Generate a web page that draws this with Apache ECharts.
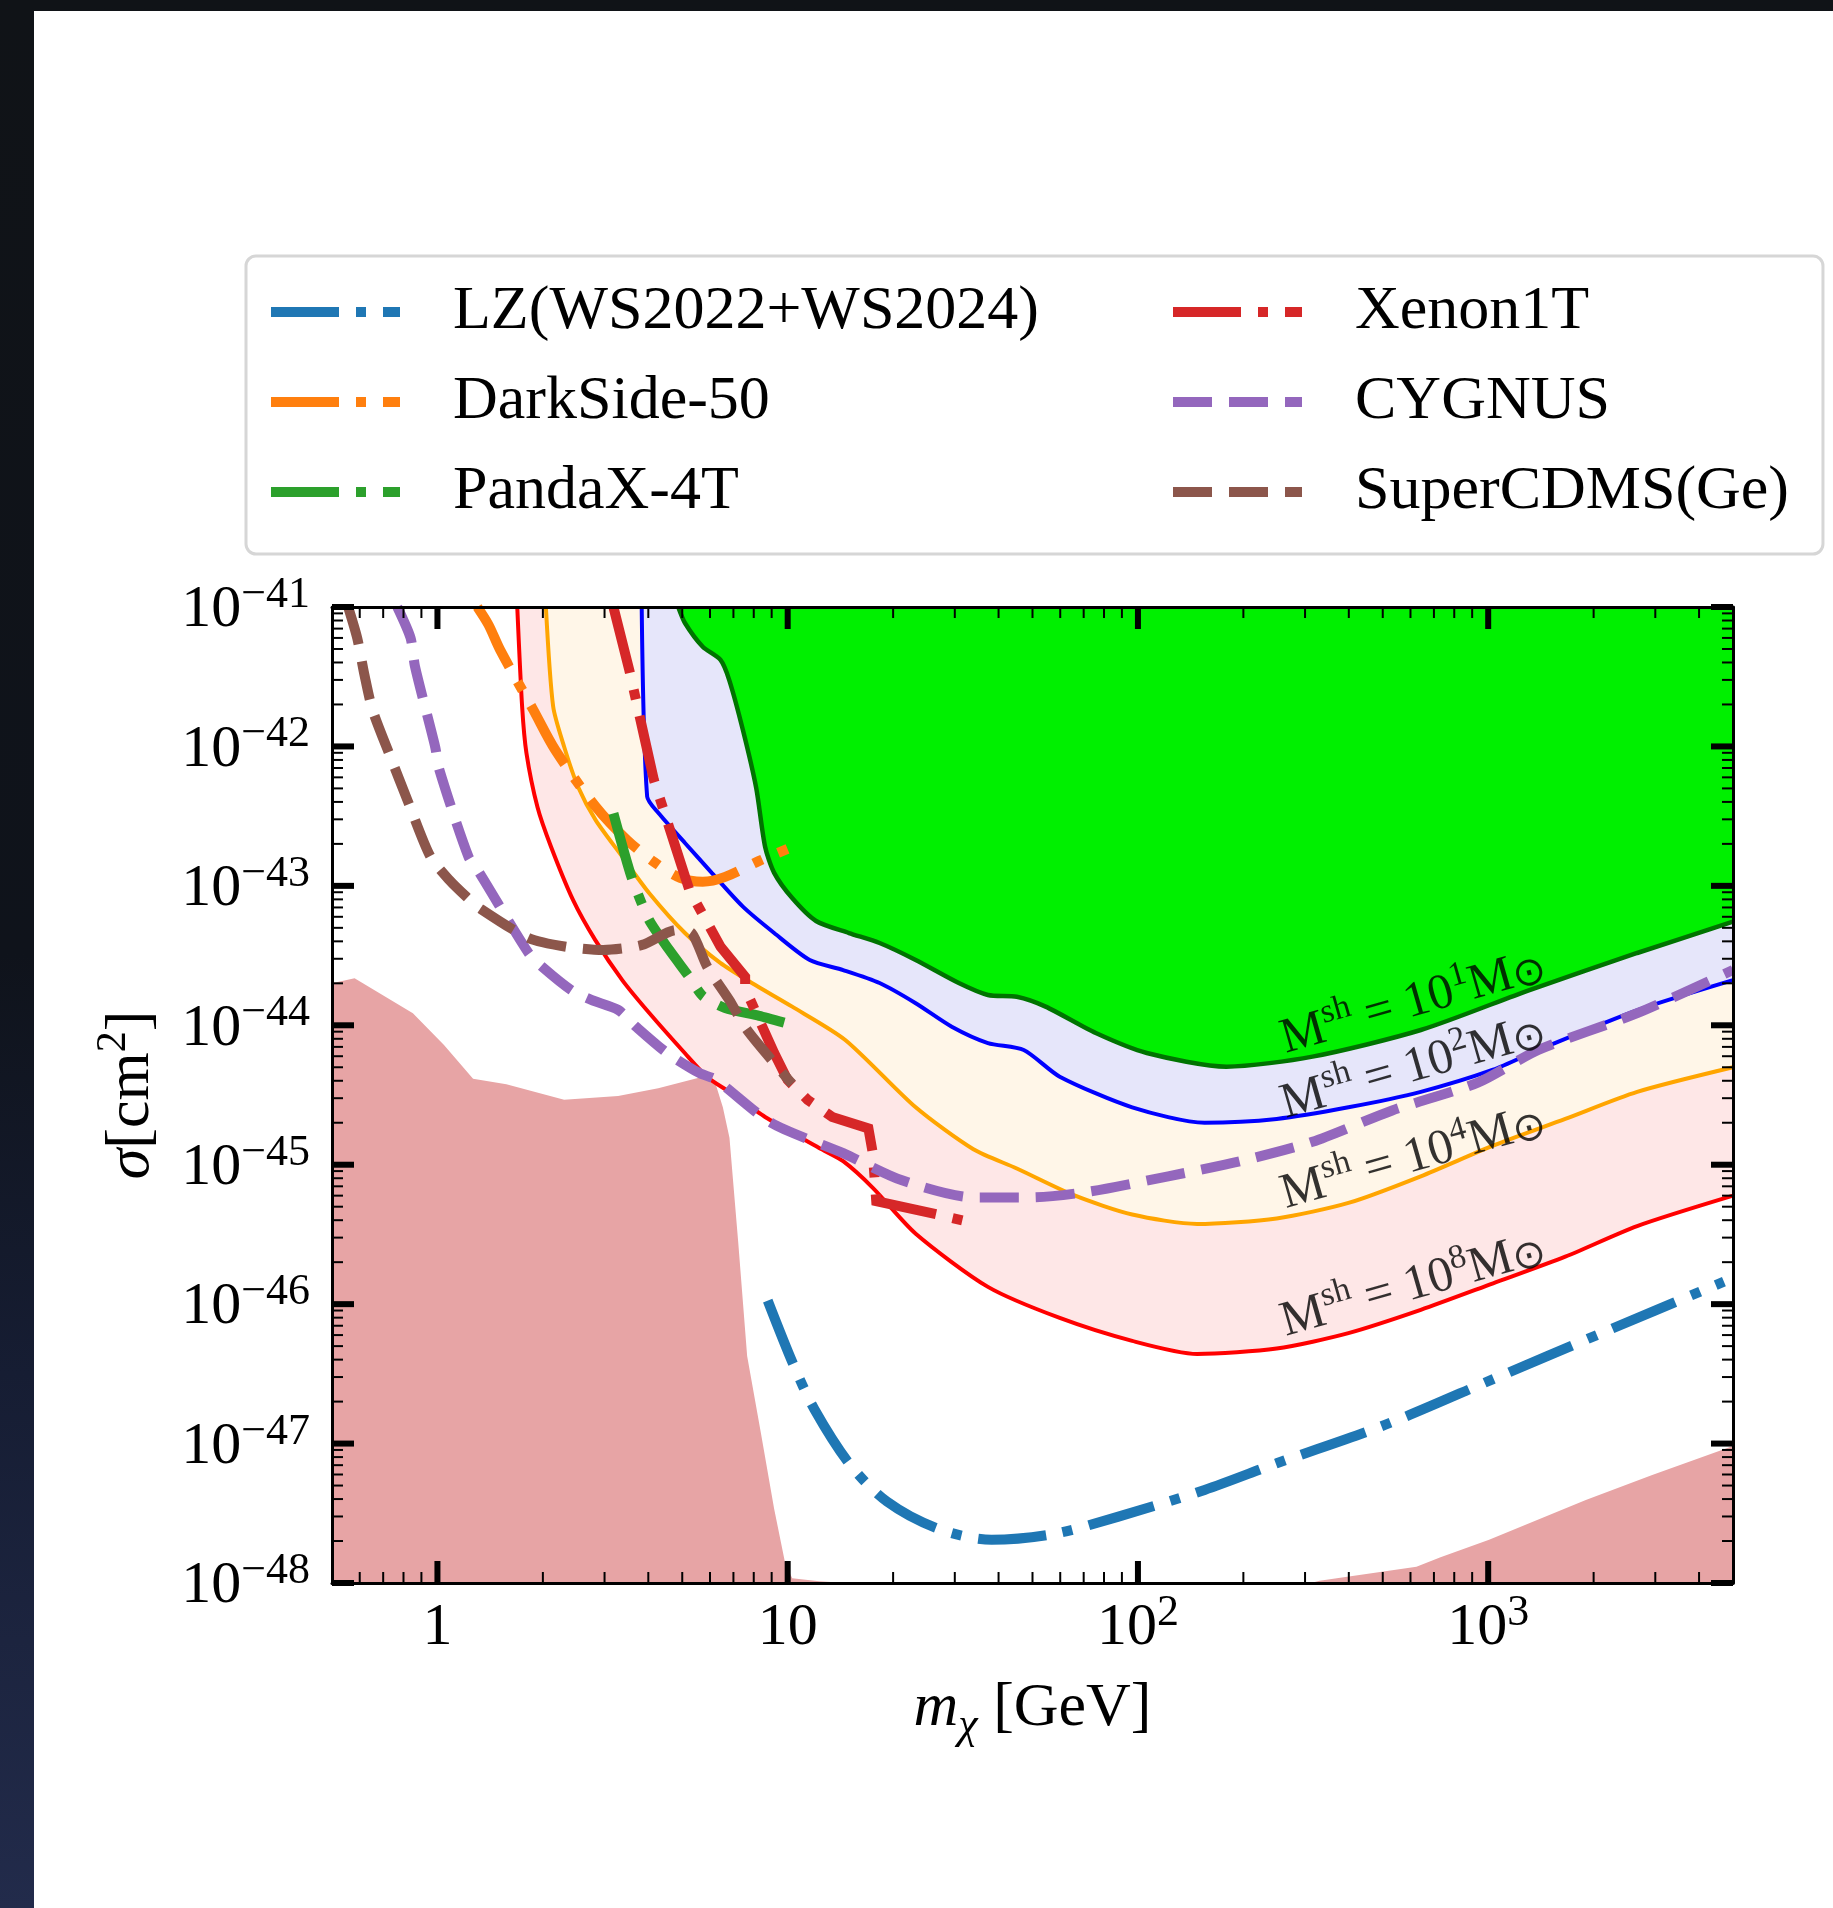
<!DOCTYPE html>
<html>
<head>
<meta charset="utf-8">
<script src="https://cdn.jsdelivr.net/npm/echarts@6/dist/echarts.min.js"></script>
<style>
html,body{margin:0;padding:0;width:1833px;height:1908px;overflow:hidden;}
body{background:linear-gradient(180deg,#101317 0%,#0f131b 50%,#161d33 72%,#222b4b 100%);}
#paper{position:absolute;left:34px;top:11px;right:0;bottom:0;background:#ffffff;}
#chart{position:absolute;left:0;top:0;width:1833px;height:1908px;}
</style>
</head>
<body>
<div id="paper"></div>
<div id="chart"></div>
<script>
// ---------------- data ----------------
const xMajorTicks = [1, 10, 100, 1000];
const yMajorTicks = [1e-48, 1e-47, 1e-46, 1e-45, 1e-44, 1e-43, 1e-42, 1e-41];
const minorMultipliers = [2, 3, 4, 5, 6, 7, 8, 9];
const xDecades = [0.1, 1, 10, 100, 1000];
const yDecades = [1e-48, 1e-47, 1e-46, 1e-45, 1e-44, 1e-43, 1e-42];

// M^sh = 10^8 Msun (red)
const msh8X = [1.69, 1.745, 1.795, 1.93, 2.11, 2.44, 2.82, 3.37, 4.02, 5.09, 5.89, 6.81, 8.62, 12.5, 14.4, 17.5, 23.2, 37.3, 59.8, 96.3, 147.6, 249, 399, 642, 1033, 1660, 2663, 5000];
const msh8Y = [1e-41, 1.93e-42, 8.98e-43, 3.68e-43, 1.91e-43, 7.9e-44, 4.1e-44, 2.11e-44, 1.23e-44, 6.3e-45, 4.26e-45, 3.33e-45, 2.2e-45, 1.29e-45, 1.06e-45, 6.83e-46, 3.2e-46, 1.33e-46, 7.96e-47, 5.45e-47, 4.39e-47, 4.8e-47, 6.2e-47, 9.1e-47, 1.41e-46, 2.19e-46, 3.63e-46, 6.0e-46];
// M^sh = 10^4 Msun (orange)
const msh4X = [2.04, 2.14, 2.30, 2.52, 2.83, 3.37, 4.02, 5.09, 6.42, 7.90, 10.3, 14.6, 23.2, 33.9, 45.1, 65.9, 96.3, 147.6, 249, 399, 642, 1033, 1660, 2663, 5000];
const msh4Y = [1e-41, 1.93e-42, 9.95e-43, 5.14e-43, 2.96e-43, 1.62e-43, 8.89e-44, 4.59e-44, 2.8e-44, 2.01e-44, 1.36e-44, 7.85e-45, 2.58e-45, 1.29e-45, 9.4e-46, 6.02e-46, 4.39e-46, 3.76e-46, 4.12e-46, 5.32e-46, 8.26e-46, 1.37e-45, 2.13e-45, 3.33e-45, 5.0e-45];
// M^sh = 10^2 Msun (blue)
const msh2X = [3.83, 3.97, 4.27, 5.09, 6.07, 7.45, 9.15, 11.56, 14.4, 18.3, 23.2, 29.4, 37.3, 47.2, 59.8, 96.3, 155, 249, 399, 642, 1033, 1390, 2682, 5000];
const msh2Y = [1e-41, 4.37e-43, 3.34e-43, 2.03e-43, 1.24e-43, 7.09e-44, 4.59e-44, 2.94e-44, 2.49e-44, 2.01e-44, 1.44e-44, 9.77e-45, 7.46e-45, 6.65e-45, 4.28e-45, 2.58e-45, 2.0e-45, 2.13e-45, 2.58e-45, 3.33e-45, 4.8e-45, 6.65e-45, 1.29e-44, 2.11e-44];
// M^sh = 10^1 Msun (green)
const msh1X = [4.87, 5.09, 5.72, 6.43, 6.81, 7.45, 8.13, 8.62, 9.15, 10.3, 12.05, 14.96, 18.3, 23.2, 30.8, 37.3, 45.1, 54.5, 75.8, 106, 179, 315, 642, 1312, 2663, 5000];
const msh1Y = [1e-41, 7.68e-42, 5.19e-42, 4.17e-42, 2.99e-42, 1.31e-42, 5.04e-43, 1.91e-43, 1.24e-43, 8.18e-44, 5.6e-44, 4.59e-44, 3.89e-44, 2.94e-44, 2.01e-44, 1.65e-44, 1.6e-44, 1.36e-44, 8.8e-45, 6.33e-45, 5.05e-45, 5.96e-45, 9.25e-45, 1.79e-44, 3.3e-44, 5.53e-44];
// shaded floor region (pink)
const floorX = [0.5, 0.58, 0.851, 1.044, 1.264, 1.573, 2.30, 3.28, 4.27, 5.72, 6.16, 6.53, 6.82, 7.22, 7.66, 8.38, 9.15, 9.83, 10.3, 12.3, 14, 17, 250, 290, 330, 624, 731, 1006, 1900, 2940, 5000];
const floorY = [2.0e-44, 2.17e-44, 1.22e-44, 7.22e-45, 4.14e-45, 3.77e-45, 2.92e-45, 3.11e-45, 3.53e-45, 4.28e-45, 4.14e-45, 2.58e-45, 1.56e-45, 2.83e-46, 4.25e-47, 1.2e-47, 3.4e-48, 1.4e-48, 1.08e-48, 1.03e-48, 1.01e-48, 9e-49, 5e-49, 9.5e-49, 1.04e-48, 1.31e-48, 1.53e-48, 2.04e-48, 3.94e-48, 5.96e-48, 9.6e-48];

// experiments
const lzX = [8.77, 10.36, 11.94, 15.1, 19.2, 26.8, 38.2, 57.1, 87.5, 155, 249, 507, 1033, 2103, 4710];
const lzY = [1.06e-46, 3.73e-47, 1.75e-47, 7.02e-48, 3.84e-48, 2.46e-48, 2.04e-48, 2.24e-48, 2.98e-48, 4.65e-48, 7.22e-48, 1.36e-47, 2.9e-47, 6.19e-47, 1.45e-46];
const dsX = [1.30, 1.40, 1.51, 1.88, 2.17, 2.83, 3.48, 4.16, 4.93, 5.72, 6.63, 8.29, 9.99];
const dsY = [1e-41, 7.43e-42, 4.92e-42, 1.82e-42, 9.42e-43, 3.7e-43, 2.13e-43, 1.48e-43, 1.14e-43, 1.07e-43, 1.16e-43, 1.51e-43, 1.84e-43];
const pxX = [3.18, 3.58, 4.02, 4.59, 5.23, 5.72, 6.63, 8.29, 9.99];
const pxY = [3.31e-43, 1.16e-43, 5.69e-44, 3.47e-44, 2.23e-44, 1.62e-44, 1.33e-44, 1.17e-44, 1.03e-44];
const xeX = [3.18, 3.53, 4.15, 5.24, 6.43, 7.56, 7.56, 9.15, 9.99, 11.4, 13.4, 17.0, 17.5, 17.9, 26.8, 31.6];
const xeY = [1e-41, 3.53e-42, 5.74e-43, 9.33e-44, 3.66e-44, 2.23e-44, 1.84e-44, 6.32e-45, 4.06e-45, 2.92e-45, 2.2e-45, 1.82e-45, 1.21e-45, 5.47e-46, 4.39e-46, 3.99e-46];
const cyX = [0.768, 0.838, 0.863, 0.985, 1.013, 1.226, 1.318, 1.82, 1.99, 2.41, 2.75, 3.28, 3.69, 4.53, 5.59, 6.25, 8.97, 14.4, 21.1, 33.9, 49.6, 72.4, 122, 196, 315, 532, 938, 1390, 2663, 5000];
const cyY = [1e-41, 6.0e-42, 3.73e-42, 9.95e-43, 6.78e-43, 1.62e-43, 1.24e-43, 3.3e-44, 2.63e-44, 1.79e-44, 1.52e-44, 1.29e-44, 9.77e-45, 6.32e-45, 4.55e-45, 4.06e-45, 2.0e-45, 1.21e-45, 7.76e-46, 5.83e-46, 5.83e-46, 6.41e-46, 8.26e-46, 1.06e-45, 1.46e-45, 2.45e-45, 3.9e-45, 6.65e-45, 1.22e-44, 2.49e-44];
const scX = [0.556, 0.590, 0.619, 0.653, 0.734, 0.827, 0.955, 1.082, 1.21, 1.318, 1.82, 2.33, 2.97, 3.84, 4.80, 5.32, 5.89, 6.81, 7.66, 9.88, 10.3];
const scY = [1e-41, 6.0e-42, 3.25e-42, 1.82e-42, 8.43e-43, 3.93e-43, 1.62e-43, 1.1e-43, 8.35e-44, 6.93e-44, 4.23e-44, 3.66e-44, 3.47e-44, 3.77e-44, 4.82e-44, 4.59e-44, 2.63e-44, 1.52e-44, 9.25e-45, 4.28e-45, 3.8e-45];

// curve labels
const labelX = [608, 608, 608, 608];
const labelY = [1.52e-44, 5.19e-45, 1.17e-45, 1.42e-46];
const labelExp = ['1', '2', '4', '8'];

const legendCol1 = ['LZ(WS2022+WS2024)', 'DarkSide-50', 'PandaX-4T'];
const legendOrder = ['LZ(WS2022+WS2024)', 'Xenon1T', 'DarkSide-50', 'CYGNUS', 'PandaX-4T', 'SuperCDMS(Ge)'];

// ---------------- build ----------------
const FONT = "'Liberation Serif','Times New Roman',serif";
const zip = (xs, ys) => xs.map((x, i) => [x, ys[i]]);
const DASHDOT = [68, 17, 10, 17];
const DASHED = [39, 17];
const X_MIN = 0.5, X_MAX = 5000, Y_MIN = 1e-48, Y_MAX = 1e-41;

function region(name, xs, ys, line, fill, lw) {
  return {
    name: name, type: 'line', data: zip(xs, ys), symbol: 'none', showSymbol: false,
    silent: true, clip: true, emphasis: {disabled: true}, smooth: 0.25,
    lineStyle: {color: line, width: lw},
    areaStyle: {color: fill, opacity: 1, origin: Y_MAX},
    z: 2
  };
}
function experiment(name, xs, ys, color, dash, smooth) {
  return {
    name: name, type: 'line', data: zip(xs, ys), symbol: 'none', showSymbol: false,
    silent: true, clip: true, emphasis: {disabled: true}, smooth: smooth,
    itemStyle: {color: color},
    lineStyle: {color: color, width: 10, type: dash, cap: 'butt', join: 'miter'},
    z: 5
  };
}

// ticks + y tick labels (custom series, drawn inward on all four sides)
const tickData = [];
xMajorTicks.forEach(v => tickData.push([v, 1e-45, 0, 1]));
xDecades.forEach(d => minorMultipliers.forEach(m => {
  const v = m * d;
  if (v > X_MIN * 1.001 && v < X_MAX * 0.999) tickData.push([v, 1e-45, 0, 0]);
}));
yMajorTicks.forEach(v => tickData.push([1, v, 1, 1]));
yDecades.forEach(d => minorMultipliers.forEach(m => tickData.push([1, m * d, 1, 0])));

const zrTickRich = {
  b: {fontFamily: FONT, fontSize: 60, lineHeight: 67, verticalAlign: 'bottom', fill: '#000'},
  s: {fontFamily: FONT, fontSize: 44, lineHeight: 30, verticalAlign: 'top', fill: '#000'}
};
function yLabelText(v) {
  const e = Math.round(Math.log10(v));
  return '{b|10}{s|\u2212' + Math.abs(e) + '}';
}

function renderTick(params, api) {
  const cs = params.coordSys;
  const isY = api.value(2) === 1;
  const major = api.value(3) === 1;
  const L = major ? 22 : 11;
  const style = {stroke: '#000', lineWidth: major ? 6 : 2};
  if (!isY) {
    const x = api.coord([api.value(0), 1e-45])[0];
    return {type: 'group', children: [
      {type: 'line', shape: {x1: x, y1: cs.y + cs.height, x2: x, y2: cs.y + cs.height - L}, style: style},
      {type: 'line', shape: {x1: x, y1: cs.y, x2: x, y2: cs.y + L}, style: style}
    ]};
  }
  const y = api.coord([1, api.value(1)])[1];
  const children = [
    {type: 'line', shape: {x1: cs.x, y1: y, x2: cs.x + L, y2: y}, style: style},
    {type: 'line', shape: {x1: cs.x + cs.width, y1: y, x2: cs.x + cs.width - L, y2: y}, style: style}
  ];
  if (major) {
    children.push({
      type: 'text', x: cs.x - 22, y: y,
      style: {text: yLabelText(api.value(1)), rich: zrTickRich, align: 'right', verticalAlign: 'middle',
              fill: '#000', fontFamily: FONT, fontSize: 60}
    });
  }
  return {type: 'group', children: children};
}

const tickRich = {
  b: {fontFamily: FONT, fontSize: 60, lineHeight: 67, verticalAlign: 'bottom', color: '#000'},
  s: {fontFamily: FONT, fontSize: 44, lineHeight: 30, verticalAlign: 'top', color: '#000'}
};
function xFmt(v) {
  const l = Math.log10(v), e = Math.round(l);
  if (!isFinite(l) || Math.abs(l - e) > 0.01) return '';
  if (e === 0) return '{b|1}';
  if (e === 1) return '{b|10}';
  return '{b|10}{s|' + e + '}';
}

const axisLineStyle = {show: true, onZero: false, lineStyle: {color: '#000', width: 3}};

const option = {
  animation: false,
  backgroundColor: 'transparent',
  textStyle: {fontFamily: FONT, color: '#000'},
  grid: {left: 332, top: 607, width: 1401, height: 976, show: false, containLabel: false, outerBoundsMode: 'none'},
  legend: {
    left: 246, top: 256, width: 1600, orient: 'horizontal',
    padding: [21, 34, 27, 20],
    itemGap: 20, itemWidth: 129, itemHeight: 10,
    backgroundColor: '#ffffff', borderColor: '#d6d6d6', borderWidth: 3, borderRadius: 10,
    selectedMode: false,
    itemStyle: {opacity: 0},
    lineStyle: {width: 10, cap: 'butt'},
    data: legendOrder,
    formatter: function (name) {
      return (legendCol1.indexOf(name) >= 0 ? '{g| }{c1|' : '{g| }{c2|') + name + '}';
    },
    textStyle: {
      fontFamily: FONT, fontSize: 62, color: '#000', lineHeight: 70,
      rich: {
        g: {width: 48, fontSize: 62, lineHeight: 70, fontFamily: FONT},
        c1: {width: 695, fontSize: 62, lineHeight: 70, fontFamily: FONT, color: '#000'},
        c2: {fontSize: 62, lineHeight: 70, fontFamily: FONT, color: '#000'}
      }
    }
  },
  xAxis: [
    {
      type: 'log', logBase: 10, min: X_MIN, max: X_MAX, position: 'bottom', z: 10,
      axisLine: axisLineStyle, axisTick: {show: false}, minorTick: {show: false},
      splitLine: {show: false}, minorSplitLine: {show: false},
      axisLabel: {show: true, margin: 8, showMinLabel: false, showMaxLabel: false, formatter: xFmt, rich: tickRich, color: '#000'},
      name: '{i|m}{sub|\u03c7}{n| [GeV]}', nameLocation: 'middle', nameGap: 95, nameMoveOverlap: false,
      nameTextStyle: {rich: {
        i: {fontFamily: FONT, fontStyle: 'italic', fontSize: 62, lineHeight: 60, verticalAlign: 'top', color: '#000'},
        sub: {fontFamily: FONT, fontStyle: 'italic', fontSize: 44, lineHeight: 70, verticalAlign: 'bottom', color: '#000'},
        n: {fontFamily: FONT, fontSize: 62, lineHeight: 60, verticalAlign: 'top', color: '#000'}
      }}
    },
    {
      type: 'log', logBase: 10, min: X_MIN, max: X_MAX, position: 'top', z: 10,
      axisLine: axisLineStyle, axisTick: {show: false}, axisLabel: {show: false},
      splitLine: {show: false}
    }
  ],
  yAxis: [
    {
      type: 'log', logBase: 10, min: Y_MIN, max: Y_MAX, position: 'left', z: 10,
      axisLine: axisLineStyle, axisTick: {show: false}, minorTick: {show: false},
      splitLine: {show: false}, minorSplitLine: {show: false},
      axisLabel: {show: false},
      name: '{i|\u03c3}{n|[cm}{s|2}{n|]}', nameLocation: 'middle', nameRotate: 90, nameGap: 169, nameMoveOverlap: false,
      nameTextStyle: {rich: {
        i: {fontFamily: FONT, fontStyle: 'italic', fontSize: 62, lineHeight: 70, verticalAlign: 'bottom', color: '#000'},
        n: {fontFamily: FONT, fontSize: 62, lineHeight: 70, verticalAlign: 'bottom', color: '#000'},
        s: {fontFamily: FONT, fontSize: 42, lineHeight: 40, verticalAlign: 'top', color: '#000'}
      }}
    },
    {
      type: 'log', logBase: 10, min: Y_MIN, max: Y_MAX, position: 'right', z: 10,
      axisLine: axisLineStyle, axisTick: {show: false}, axisLabel: {show: false},
      splitLine: {show: false}
    }
  ],
  series: [
    {
      name: 'floor', type: 'line', data: zip(floorX, floorY), symbol: 'none', showSymbol: false,
      silent: true, clip: true, emphasis: {disabled: true},
      lineStyle: {width: 0, color: '#e7a4a5'},
      areaStyle: {color: '#e7a4a5', opacity: 1, origin: Y_MIN},
      z: 1
    },
    region('Msh8', msh8X, msh8Y, '#ff0000', '#fee7e7', 4),
    region('Msh4', msh4X, msh4Y, '#ffa500', '#fff6e8', 4),
    region('Msh2', msh2X, msh2Y, '#0000ff', '#e6e6fa', 4),
    region('Msh1', msh1X, msh1Y, '#007400', '#00f000', 4.5),
    experiment('LZ(WS2022+WS2024)', lzX, lzY, '#1f77b4', DASHDOT, 0.3),
    experiment('DarkSide-50', dsX, dsY, '#ff7f0e', DASHDOT, 0.3),
    experiment('PandaX-4T', pxX, pxY, '#2ca02c', DASHDOT, 0.2),
    experiment('Xenon1T', xeX, xeY, '#d62728', DASHDOT, false),
    experiment('CYGNUS', cyX, cyY, '#9467bd', DASHED, 0.25),
    experiment('SuperCDMS(Ge)', scX, scY, '#8c564b', DASHED, 0.25),
    {
      name: 'labels', type: 'scatter', data: zip(labelX, labelY), symbolSize: 1,
      itemStyle: {color: 'rgba(0,0,0,0)'}, silent: true, z: 8,
      label: {
        show: true, position: 'inside', rotate: 16,
        formatter: function (p) {
          return '{m|M}{s|sh}{m| = 10}{s|' + labelExp[p.dataIndex] + '}{m|M}{o|\u2299}';
        },
        rich: {
          m: {fontFamily: FONT, fontSize: 50, lineHeight: 56, verticalAlign: 'bottom', color: '#000'},
          s: {fontFamily: FONT, fontSize: 34, lineHeight: 34, verticalAlign: 'top', color: '#000'},
          o: {fontFamily: "'DejaVu Sans',sans-serif", fontSize: 40, lineHeight: 52, verticalAlign: 'bottom', color: '#000'}
        }
      }
    },
    {
      name: 'ticks', type: 'custom', data: tickData, renderItem: renderTick,
      silent: true, z: 11, clip: false
    }
  ]
};

const chart = echarts.init(document.getElementById('chart'), null, {renderer: 'canvas', width: 1833, height: 1908});
chart.setOption(option);
</script>
</body>
</html>
